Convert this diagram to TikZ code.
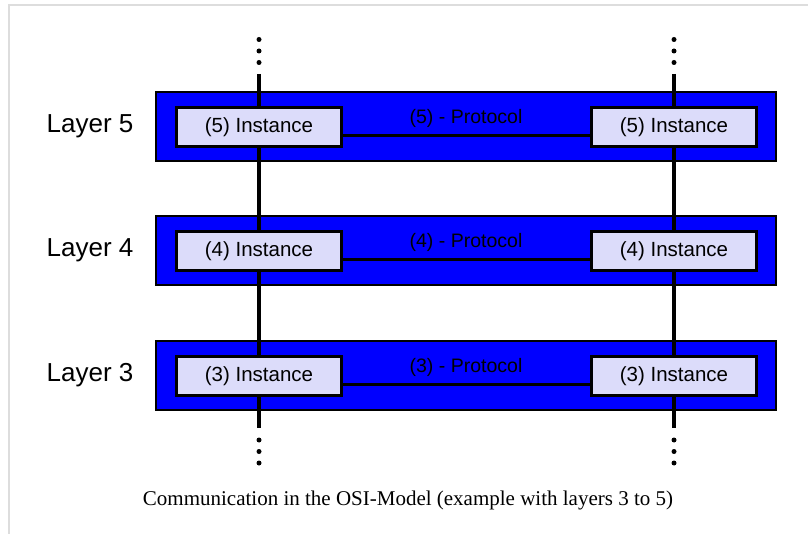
\documentclass[tikz,border=0pt]{standalone}
\usepackage{fontspec}
\setmainfont{Liberation Sans}
\newfontfamily\capfont{Liberation Serif}
\definecolor{bandblue}{RGB}{0,0,255}
\definecolor{instfill}{RGB}{220,220,250}
\definecolor{framegray}{RGB}{221,221,221}
\begin{document}
\begin{tikzpicture}[x=1pt,y=-1pt,
  band/.style={draw=black,line width=2pt,fill=bandblue,minimum width=620pt,minimum height=69pt,inner sep=0pt},
  inst/.style={draw=black,line width=3pt,fill=instfill,minimum width=165pt,minimum height=39pt,inner sep=0pt,font=\fontsize{20.5}{24}\selectfont},
  proto/.style={font=\fontsize{19.5}{23}\selectfont},
  layerlbl/.style={font=\fontsize{26}{30}\selectfont},
  vline/.style={line width=4pt},
  pline/.style={line width=3pt},
  dotmark/.style={circle,fill=black,inner sep=0pt,minimum size=5pt},
  framel/.style={draw=framegray,line width=2pt}]
\useasboundingbox (0,0) rectangle (808,534);
\draw[framel] (9,534) -- (9,5) -- (808,5);

% bands
\node[band] (band5) at (466,126.5) {};
\node[band] (band4) at (466,251) {};
\node[band] (band3) at (466,375.5) {};

% layer labels
\node[layerlbl] (lab5) at (90,126) {Layer 5};
\node[layerlbl] (lab4) at (90,250.5) {Layer 4};
\node[layerlbl] (lab3) at (90,375) {Layer 3};

% vertical lines
\coordinate (ta) at (259,74);
\coordinate (ba) at (259,428);
\coordinate (tb) at (674,74);
\coordinate (bb) at (674,428);
\draw[vline] (ta) -- (ba);
\draw[vline] (tb) -- (bb);

% dots
\foreach \xx/\nn in {259/a,674/b}{
  \node[dotmark] (d1\nn) at (\xx,39.5) {};
  \node[dotmark] (d2\nn) at (\xx,51) {};
  \node[dotmark] (d3\nn) at (\xx,62.5) {};
  \node[dotmark] (e1\nn) at (\xx,440) {};
  \node[dotmark] (e2\nn) at (\xx,451.5) {};
  \node[dotmark] (e3\nn) at (\xx,463) {};
}

% instances
\node[inst] (l5) at (259,127) {(5) Instance};
\node[inst] (r5) at (674,127) {(5) Instance};
\node[inst] (l4) at (259,251.5) {(4) Instance};
\node[inst] (r4) at (674,251.5) {(4) Instance};
\node[inst] (l3) at (259,376) {(3) Instance};
\node[inst] (r3) at (674,376) {(3) Instance};

% protocol lines
\draw[pline] ([yshift=-8.5pt]l5.east) -- ([yshift=-8.5pt]r5.west);
\draw[pline] ([yshift=-8.5pt]l4.east) -- ([yshift=-8.5pt]r4.west);
\draw[pline] ([yshift=-8.5pt]l3.east) -- ([yshift=-8.5pt]r3.west);

\node[proto] (p5) at (466,118) {(5) - Protocol};
\node[proto] (p4) at (466,242.5) {(4) - Protocol};
\node[proto] (p3) at (466,367) {(3) - Protocol};

% caption
\node[anchor=base,font=\capfont\fontsize{21}{25}\selectfont] (cap) at (408,505) {Communication in the OSI-Model (example with layers 3 to 5)};
\end{tikzpicture}
\end{document}
